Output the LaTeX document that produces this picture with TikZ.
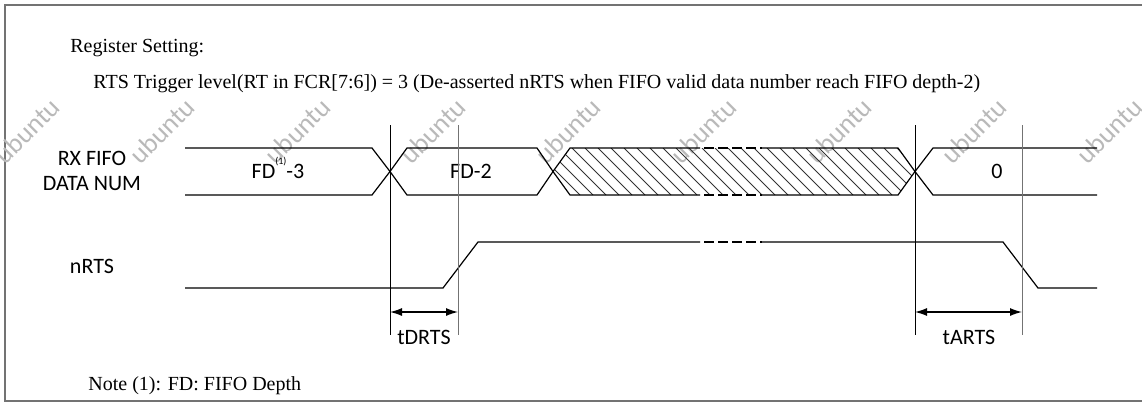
\documentclass[tikz,border=0pt]{standalone}
\usepackage{fontspec}
\setmainfont{Liberation Serif}
\newfontfamily\calibri{Carlito}
\usepackage{tikz}
\usetikzlibrary{arrows.meta,calc,positioning}
\definecolor{framegray}{rgb}{0.45,0.45,0.45}
\definecolor{markgray}{rgb}{0.45,0.45,0.45}

\tikzset{
  sig/.style={line width=0.6pt},
  mark line/.style={line width=0.5pt},
  gap/.style={sig,dash pattern=on 5pt off 2pt,dash phase=5pt},
  lbl/.style={inner sep=0pt,anchor=base,font=\calibri\fontsize{11}{13}\selectfont},
  note/.style={inner sep=0pt,anchor=base west,font=\fontsize{10}{12}\selectfont},
  wmark/.style={rotate=45,text=gray!55,font=\calibri\fontsize{13.5}{13.5}\selectfont}
}

\begin{document}
\begin{tikzpicture}[x=0.5pt,y=-0.5pt]
      \useasboundingbox (0,0) rectangle (1142,403);
      % Frame
      \draw[framegray,line width=1pt] (1142,5) -- (5,5) -- (5,401) -- (1142,401);
      % Texts
      \node[note] (regset) at (70,52) {Register Setting:};
      \node[note] (rtslevel) at (93,88) {RTS Trigger level(RT in FCR[7:6]) = 3 (De-asserted nRTS when FIFO valid data number reach FIFO depth-2)};
      \node[note] (fdnote) at (88,390) {Note (1): FD: FIFO Depth};
      % Watermark
      \foreach \wx in {0,...,8}
        \node[wmark] (wm\wx) at (27+135.3*\wx,131) {ubuntu};
      % Signal names
      \node[lbl] (rxname) at (92,165) {RX FIFO};
      \node[lbl] (dataname) at (92,190) {DATA NUM};
      \node[lbl] (nrtsname) at (92,273) {nRTS};
      % First data
      \draw[sig] (185,148) -- (372,148) -- (390,171.5) -- (372,195) -- (185,195);
      \node[lbl] (fdthree) at (278,178) {FD\raisebox{1.3ex}{\fontsize{5}{5}\selectfont(1)}-3};
      % Second data
      \draw[sig] (390,171.5) -- (407,148) -- (537,148) -- (553,171.5) -- (537,195) -- (407,195) -- cycle;
      \node[lbl] (fdtwo) at (471,178) {FD-2};
      % Hatched data
      \begin{scope}
        \clip (553,171.5) -- (570,148) -- (898,148) -- (915,171.5) -- (898,195) -- (570,195) -- cycle;
        \foreach \hx in {520,533,...,920}
          \draw[black!80,line width=0.5pt] (\hx,148) -- ++(47,47);
      \end{scope}
      \draw[sig] (700,148) -- (570,148) -- (553,171.5) -- (570,195) -- (700,195);
      \draw[sig] (762,148) -- (898,148) -- (915,171.5) -- (898,195) -- (762,195);
      \draw[gap] (700,148) -- (762,148);
      \draw[gap] (700,195) -- (762,195);
      % Last data
      \draw[sig] (1097,148) -- (933,148) -- (915,171.5) -- (933,195) -- (1097,195);
      \node[lbl] (zero) at (997,178) {0};
      % nRTS
      \draw[sig] (185,288) -- (443,288) -- (478,242) -- (700,242);
      \draw[gap] (700,242) -- (762,242);
      \draw[sig] (762,242) -- (1003,242) -- (1038,288) -- (1097,288);
      % Time marks
      \draw[mark line] (390,125) -- (390,335);
      \draw[mark line,markgray] (458,125) -- (458,335);
      \draw[mark line] (915,125) -- (915,335);
      \draw[mark line,markgray] (1022,125) -- (1022,335);
      \coordinate (tdL) at (390,312);
      \coordinate (tdR) at (458,312);
      \coordinate (taL) at (915,312);
      \coordinate (taR) at (1022,312);
      \draw[sig,{Latex[length=6pt,width=4pt]}-{Latex[length=6pt,width=4pt]}] (tdL) -- (tdR);
      \draw[sig,{Latex[length=6pt,width=4pt]}-{Latex[length=6pt,width=4pt]}] (taL) -- (taR);
      \node[lbl] (tdrts) at (424,344) {tDRTS};
      \node[lbl] (tarts) at (969,344) {tARTS};
    \end{tikzpicture}
\end{document}
